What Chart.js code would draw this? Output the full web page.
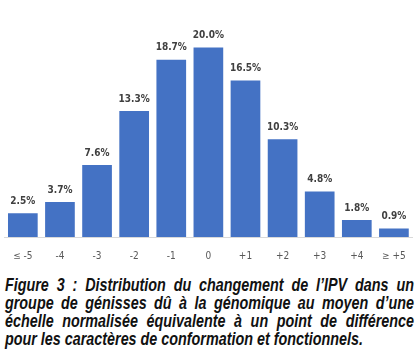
<!DOCTYPE html>
<html><head><meta charset="utf-8">
<script src="https://cdn.jsdelivr.net/npm/chart.js@4"></script>
<style>
html,body{margin:0;padding:0;background:#fff;width:419px;height:356px;overflow:hidden;}
#wrap{position:absolute;left:0;top:0;width:419px;height:269px;}
#cap{position:absolute;left:5px;top:275.5px;font-family:"Liberation Sans",Arial,sans-serif;font-weight:bold;font-style:italic;font-size:17.5px;line-height:18.3px;color:#111;transform-origin:0 0;}
#cap div{text-align:justify;text-align-last:justify;white-space:nowrap;}
#cap div.last{text-align-last:left;}
#cap span{white-space:nowrap;}
</style></head><body>
<div id="wrap"><canvas id="c"></canvas></div>
<div id="cap">
<div>Figure 3 : Distribution du changement de l’IPV dans un</div>
<div>groupe de génisses dû à la génomique au moyen d’une</div>
<div>échelle normalisée équivalente à un point de différence</div>
<div class="last"><span id="l4">pour les caractères de conformation et fonctionnels.</span></div>
</div>
<script>
const categories = ["≤ -5","-4","-3","-2","-1","0","+1","+2","+3","+4","≥ +5"];
const values = [2.5,3.7,7.6,13.3,18.7,20.0,16.5,10.3,4.8,1.8,0.9];
const valueLabels = ["2.5%","3.7%","7.6%","13.3%","18.7%","20.0%","16.5%","10.3%","4.8%","1.8%","0.9%"];

// fit caption: last line natural width ~358px, full lines 409px
(function(){
  const cap = document.getElementById('cap');
  const w4 = document.getElementById('l4').getBoundingClientRect().width;
  const s = 358 / w4;
  cap.style.width = (409 / s) + 'px';
  cap.style.transform = 'scaleX(' + s + ')';
})();

const labelPlugin = {
  id:'vals',
  afterDatasetsDraw(chart){
    const ctx = chart.ctx;
    const meta = chart.getDatasetMeta(0);
    ctx.save();
    ctx.font = 'bold 10px "DejaVu Sans Condensed", "Liberation Sans", sans-serif';
    ctx.fillStyle = '#404040';
    ctx.textAlign = 'center';
    ctx.textBaseline = 'middle';
    meta.data.forEach((bar,i)=>{
      ctx.fillText(valueLabels[i], bar.x, bar.y - 12);
    });
    ctx.restore();
  }
};

new Chart(document.getElementById('c'),{
  type:'bar',
  data:{labels:categories,datasets:[{data:values,backgroundColor:'#4472C4',barPercentage:0.8,categoryPercentage:1.0}]},
  options:{
    responsive:true,maintainAspectRatio:false,animation:false,
    layout:{padding:{left:4,right:6,top:0,bottom:0}},
    plugins:{legend:{display:false},tooltip:{enabled:false}},
    scales:{
      x:{grid:{display:false,drawTicks:false},border:{color:'#d9d9d9',width:1},
         afterFit(scale){ scale.height = 32; },
         ticks:{color:'#595959',font:{family:'"DejaVu Sans Condensed", "Liberation Sans", sans-serif',size:10},padding:13}},
      y:{display:false,min:0,max:25}
    }
  },
  plugins:[labelPlugin]
});
</script>
</body></html>
